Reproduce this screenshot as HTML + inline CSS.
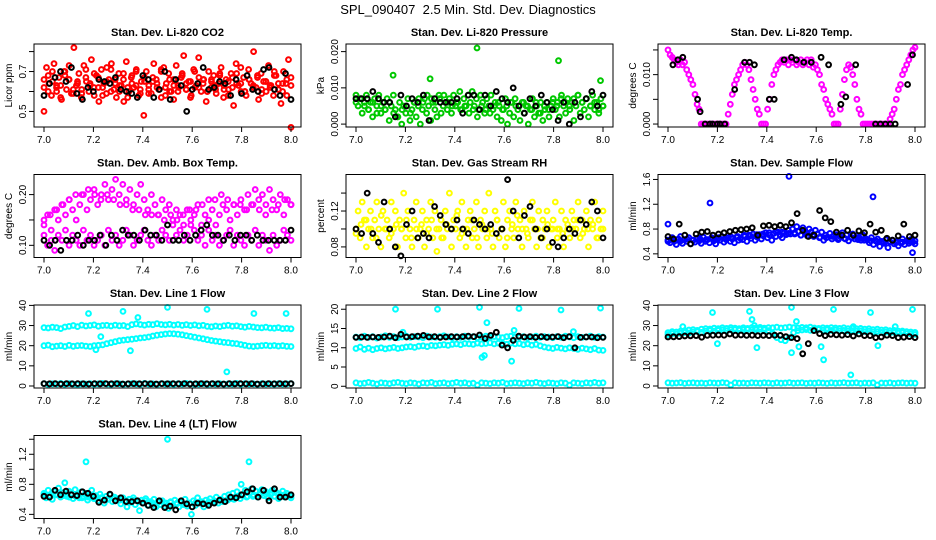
<!DOCTYPE html>
<html><head><meta charset="utf-8">
<style>
html,body{margin:0;padding:0;background:#fff;}
svg{display:block;font-family:"Liberation Sans",Arial,sans-serif;}
</style></head>
<body>
<svg id="chart" width="936" height="540" viewBox="0 0 936 540" xmlns="http://www.w3.org/2000/svg">
<rect x="0" y="0" width="936" height="540" fill="#fff"/>
<text x="468" y="14" text-anchor="middle" font-size="13">SPL_090407&#160; 2.5 Min. Std. Dev. Diagnostics</text>
</svg>
<script>
// ---------- data arrays ----------
const xTicks = [7.0, 7.2, 7.4, 7.6, 7.8, 8.0];
const xTickLabels = ["7.0", "7.2", "7.4", "7.6", "7.8", "8.0"];

const co2Red = [0.50,0.72,0.64,0.58,0.74,0.62,0.67,0.56,0.70,0.61,0.66,0.59,0.82,0.63,0.69,0.57,0.73,0.65,0.60,0.76,0.62,0.68,0.55,0.71,0.64,0.59,0.66,0.74,0.61,0.57,0.69,0.63,0.55,0.75,0.60,0.67,0.62,0.71,0.58,0.65,0.48,0.70,0.63,0.59,0.74,0.66,0.61,0.57,0.72,0.64,0.69,0.60,0.56,0.73,0.62,0.67,0.78,0.61,0.65,0.58,0.71,0.63,0.77,0.60,0.66,0.55,0.70,0.62,0.68,0.59,0.64,0.72,0.57,0.66,0.61,0.69,0.53,0.74,0.63,0.60,0.67,0.58,0.71,0.64,0.80,0.62,0.56,0.69,0.65,0.60,0.73,0.63,0.58,0.68,0.61,0.54,0.70,0.64,0.76,0.42];
const co2RedB = [0.66,0.60,0.70,0.63,0.57,0.68,0.73,0.61,0.65,0.59,0.71,0.64,0.58,0.67,0.62,0.72,0.60,0.66,0.63,0.69,0.57,0.64,0.70,0.61,0.67,0.59,0.65,0.62,0.71,0.58,0.66,0.63,0.60,0.68,0.64,0.57,0.70,0.62,0.66,0.60,0.65,0.61,0.69,0.63,0.58,0.67,0.64,0.72,0.60,0.66,0.62,0.68,0.59,0.65,0.63,0.70,0.61,0.64,0.58,0.67];
const co2RedC = [0.62,0.68,0.65,0.60,0.63,0.70,0.66,0.59,0.64,0.61,0.67,0.63,0.69,0.62,0.58,0.65,0.71,0.64,0.60,0.66,0.62,0.68,0.63,0.59,0.65,0.61,0.67,0.64,0.70,0.62,0.60,0.66,0.63,0.69,0.61,0.65,0.62,0.67,0.64,0.60,0.66,0.63,0.68,0.61,0.65,0.62,0.69,0.64,0.60,0.66,0.63,0.67,0.61,0.65,0.62,0.68,0.64,0.60,0.66,0.63];
const co2Black = [0.58,0.64,0.67,0.70,0.65,0.72,0.59,0.56,0.62,0.60,0.66,0.65,0.64,0.67,0.61,0.60,0.59,0.57,0.68,0.66,0.57,0.61,0.70,0.56,0.66,0.63,0.50,0.61,0.64,0.72,0.61,0.62,0.65,0.64,0.58,0.66,0.59,0.68,0.61,0.60,0.71,0.72,0.61,0.58,0.69,0.56];

const presGreen = [0.008,0.005,0.007,0.003,0.006,0.008,0.004,0.006,0.002,0.007,0.005,0.008,0.003,0.006,0.004,0.007,0.001,0.005,0.008,
 0.004,0.002,0.006,0.000,0.005,0.003,0.007,0.001,0.004,0.006,0.002,0.005,0.000,0.004,0.007,0.003,0.005,0.001,0.006,0.004,0.002,0.008,0.003,0.005,
 0.006,0.004,0.007,0.003,0.008,0.005,0.006,0.009,0.004,0.007,0.005,0.008,0.006,0.009,0.005,0.007,0.004,0.008,0.006,0.003,0.007,0.005,0.008,0.004,
 0.006,0.002,0.005,0.001,0.004,0.007,0.000,0.003,0.006,0.002,0.005,0.004,0.001,0.006,0.003,0.005,0.000,0.004,0.007,0.002,0.005,0.003,0.006,0.001,0.004,0.006,0.002,0.005,
 0.007,0.004,0.006,0.002,0.008,0.005,0.003,0.007,0.004,0.006,0.001,0.005,0.008,0.003,0.006,0.004,0.007,0.002,0.005,0.008,0.004,0.006,0.003,0.007,0.005];
const presGreenB = [0.006,0.007,0.005,0.004,0.006,0.003,0.005,0.004,0.006,0.003,0.002,0.004,0.005,0.003,0.006,0.007,0.006,0.008,0.007,0.006,0.007,0.008,0.006,0.005,0.006,0.004,0.005,0.003,0.004,0.002,0.005,0.004,0.003,0.005,0.006,0.004,0.005,0.006,0.007,0.005,0.006,0.005,0.004,0.006,0.003,0.005,0.004,0.006,0.005,0.007,0.006,0.005,0.007,0.008,0.006,0.007,0.005,0.006,0.004,0.005];
const presOutX = [7.15, 7.30, 7.49, 7.82, 7.99];
const presOutY = [0.0135, 0.0125, 0.021, 0.0175, 0.012];
const presBlack = [0.007,0.007,0.007,0.009,0.007,0.006,0.006,0.002,0.008,0.005,0.007,0.006,0.008,0.001,0.007,0.006,0.006,0.006,0.007,0.003,0.008,0.008,0.004,0.008,0.005,0.009,0.007,0.006,0.010,0.005,0.003,0.007,0.005,0.008,0.006,0.004,0.001,0.006,0.000,0.006,0.002,0.007,0.009,0.005,0.008];

const tempMag = [0.015,0.014,0.0135,0.013,0.0125,0.012,0.013,0.012,
 0.0125,0.011,0.010,0.009,0.008, 0.006,0.004,0.003,
 0,0,0,0,0,0,0,0,0,0,0,0,0,
 0.002,0.004,0.006,0.008,0.009,0.010,
 0.011,0.012,0.0125,0.012,0.011,0.009,
 0.007,0.005,0.003,0.002, 0,0,0,
 0.003,0.005,0.008,0.010,0.011,0.012,
 0.0125,0.013,0.0125,0.013,0.012,0.013,0.0125,0.013,0.012,0.0125,0.013,0.012,0.0125,0.013,0.012,0.013,0.0115,0.012,0.011,
 0.010,0.008,0.007,0.005,0.004,0.003,
 0.002,0,0,0,
 0.003,0.006,0.009,0.011,0.012,0.0115,
 0.010,0.008,0.005,0.003,
 0.002,0,0,0,0,0,0,0,0,0,0,0,0,0,
 0.001,0.002,0.003,0.005,0.007,0.008,0.010,0.011,0.012,0.013,0.014,0.015,0.0155];
const tempBlackX = [7.02,7.04,7.06,7.12,7.13,7.15,7.17,7.18,7.20,7.21,7.23,7.27,7.31,7.33,7.35,7.41,7.43,7.47,7.50,7.52,7.55,7.58,7.62,7.65,7.70,7.72,7.76,7.84,7.86,7.88,7.90,7.92,7.97,7.99];
const tempBlackY = [0.012,0.013,0.0135,0.005,0.0025,0,0,0,0,0,0,0.007,0.0125,0.0125,0.012,0.005,0.005,0.013,0.0135,0.013,0.0125,0.0125,0.0135,0.012,0.004,0.0055,0.012,0,0,0,0,0,0.008,0.014];

const ambUpper = [0.14,0.16,0.13,0.17,0.15,0.18,0.16,0.19,0.17,0.15,0.18,0.20,0.17,0.19,0.21,0.18,0.20,0.22,0.19,0.21,0.23,0.20,0.22,0.19,0.21,0.18,0.20,0.22,0.19,0.17,0.20,0.18,0.16,0.19,0.17,0.18,0.15,0.17,0.16,0.14,0.17,0.15,0.16,0.18,0.14,0.16,0.15,0.17,0.14,0.16,0.18,0.17,0.15,0.18,0.16,0.19,0.17,0.20,0.18,0.21,0.19,0.20,0.18,0.21,0.19,0.17,0.20,0.16,0.19,0.18];
const ambUpperB = [0.15,0.16,0.17,0.18,0.19,0.20,0.20,0.21,0.20,0.19,0.20,0.19,0.18,0.18,0.17,0.17,0.16,0.16,0.16,0.15,0.16,0.15,0.16,0.17,0.17,0.18,0.19,0.19,0.20,0.19,0.18,0.18,0.17,0.18,0.17,0.16,0.17,0.18,0.19,0.18];
const ambLower = [0.12,0.10,0.11,0.09,0.12,0.11,0.13,0.10,0.12,0.11,0.10,0.13,0.11,0.12,0.10,0.11,0.12,0.10,0.13,0.11,0.12,0.10,0.11,0.13,0.12,0.10,0.11,0.12,0.13,0.11,0.10,0.12,0.11,0.13,0.12,0.11,0.14,0.12,0.13,0.11,0.12,0.14,0.13,0.11,0.12,0.10,0.13,0.11,0.12,0.10,0.11,0.12,0.13,0.10,0.12,0.11,0.10,0.12,0.11,0.13,0.10,0.12,0.11,0.09,0.12,0.10,0.11,0.13,0.12,0.11];
const ambBlack = [0.11,0.10,0.11,0.09,0.11,0.11,0.12,0.10,0.11,0.11,0.12,0.10,0.12,0.11,0.13,0.12,0.12,0.11,0.13,0.12,0.12,0.11,0.14,0.11,0.11,0.12,0.11,0.12,0.13,0.14,0.12,0.12,0.11,0.12,0.11,0.12,0.12,0.11,0.12,0.11,0.11,0.11,0.11,0.11,0.13];

const rhYellow = [0.10,0.12,0.09,0.13,0.11,0.08,0.10,0.12,0.09,0.11,0.13,0.10,0.08,0.12,0.10,0.11,0.09,0.13,0.10,0.12,0.08,0.11,0.10,0.14,0.09,0.12,0.10,0.08,0.11,0.13,0.09,0.10,0.12,0.08,0.11,0.10,0.13,0.09,0.12,0.075,0.10,0.11,0.09,0.12,0.10,0.14,0.08,0.11,0.10,0.12,0.09,0.13,0.10,0.08,0.11,0.12,0.09,0.10,0.13,0.08,0.11,0.10,0.12,0.09,0.14,0.10,0.08,0.12,0.11,0.09,0.10,0.13,0.08,0.11,0.12,0.10,0.09,0.13,0.10,0.11,0.08,0.12,0.10,0.09,0.11,0.13,0.10,0.08,0.12,0.09,0.11,0.10,0.12,0.08,0.10,0.11,0.13,0.09,0.10,0.12,0.08,0.11,0.10,0.09,0.12,0.11,0.10,0.13,0.09,0.11,0.10,0.12,0.08,0.11,0.10,0.13,0.09,0.11,0.10,0.12];
const rhYellowB = [0.095,0.105,0.11,0.10,0.09,0.115,0.10,0.095,0.105,0.10,0.11,0.09,0.10,0.105,0.095,0.11,0.10,0.09,0.105,0.10,0.115,0.095,0.10,0.11,0.09,0.105,0.10,0.095,0.11,0.10,0.09,0.105,0.115,0.10,0.095,0.11,0.10,0.09,0.105,0.10,0.10,0.095,0.105,0.10,0.11,0.095,0.10,0.105,0.09,0.10];
const rhBlack = [0.10,0.095,0.14,0.095,0.085,0.13,0.10,0.08,0.07,0.105,0.12,0.09,0.095,0.09,0.125,0.115,0.105,0.10,0.11,0.10,0.095,0.11,0.105,0.10,0.105,0.095,0.10,0.155,0.12,0.09,0.115,0.125,0.10,0.09,0.10,0.085,0.08,0.09,0.10,0.095,0.11,0.105,0.13,0.12,0.09];

const flowBlue = [0.62,0.58,0.66,0.60,0.55,0.64,0.68,0.57,0.63,0.60,0.66,0.56,0.62,0.59,0.65,0.61,0.57,0.67,0.60,0.63,0.58,0.66,0.61,0.56,0.64,0.62,0.68,0.59,0.63,0.66,0.60,0.64,0.58,0.67,0.62,0.65,
 0.63,0.68,0.60,0.70,0.65,0.72,0.62,0.67,0.71,0.64,0.69,0.74,0.66,0.70,0.62,0.73,0.68,0.75,0.70,0.66,0.74,0.71,0.78,0.72,
 0.80,0.74,0.84,0.76,0.70,0.82,0.77,0.73,0.80,0.75,0.71,0.78,
 0.72,0.66,0.75,0.62,0.70,0.67,0.73,0.64,0.69,0.71,0.63,0.68,0.74,0.65,0.70,0.61,0.67,0.72,0.64,0.69,0.66,0.62,0.70,0.65,
 0.63,0.58,0.66,0.55,0.61,0.64,0.52,0.60,0.57,0.63,0.50,0.59,0.62,0.56,0.60,0.53,0.58,0.64,0.55,0.61,0.57,0.63,0.59,0.56];
const flowBlueB = [0.60,0.63,0.61,0.64,0.62,0.65,0.63,0.64,0.66,0.65,0.67,0.68,0.70,0.69,0.71,0.72,0.74,0.76,0.75,0.73,0.72,0.70,0.69,0.68,0.67,0.66,0.68,0.65,0.64,0.66,0.63,0.62,0.61,0.60,0.59,0.60,0.58,0.59,0.60,0.61];
const flowOutX = [7.0, 7.17, 7.49, 7.83, 7.99];
const flowOutY = [0.88, 1.22, 1.65, 1.32, 0.42];
const flowBlack = [0.68,0.64,0.88,0.70,0.56,0.72,0.75,0.76,0.70,0.72,0.74,0.76,0.78,0.79,0.80,0.82,0.70,0.85,0.86,0.84,0.86,0.84,0.90,1.05,0.78,0.68,0.70,1.10,0.98,0.92,0.75,0.70,0.78,0.70,0.77,0.74,0.88,0.75,0.78,0.65,0.62,0.69,0.88,0.68,0.70];

const l1Top = [29,28.8,29.2,29,28.5,29.3,29.6,30,29.5,30.2,29.8,30,30.3,29.7,30,30.1,29.8,30.2,29.9,30,29.5,30.4,30.8,30.5,30.2,30.6,30.4,30.9,30.5,30.3,30.6,30.2,30.5,30.1,30.4,30,30.3,29.9,30.1,29.6,29.4,29.8,29.5,29.9,30.1,29.7,29.9,29.5,29.2,29.6,29.3,29,28.9,29.2,28.8,28.7,29,28.5,28.6,28.4];
const l1Mid = [20,20.3,19.5,19.8,20,19.6,20.2,19.7,20,20.1,19.8,19.6,20,20.2,20.4,21,21.5,22,22.5,22.8,23,23.2,23.5,23.8,24,24.3,24.8,25.2,25.5,25.8,26,25.9,25.7,25.4,25,24.6,24.2,23.8,23.4,23,22.6,22.3,22,21.7,21.5,21.2,21,20.6,20.2,19.8,19.6,19.8,20,20.2,19.9,20.1,19.8,20,19.7,19.6];
const l1Bottom = [1.2,0.8,1.1,1.0,1.3,0.9,1.2,1.0,0.7,1.1,1.0,1.2,0.9,1.1,1.3,1.0,0.8,1.2,1.1,0.9,1.0,1.2,1.1,0.9,1.3,1.0,1.1,0.8,1.2,1.0,1.1,0.9,1.2,1.0,1.3,1.1,0.9,1.0,1.2,0.8,1.1,1.0,1.2,0.9,1.1,1.0,1.3,0.9,1.2,1.0,1.1,0.8,1.2,1.0,1.1,0.9,1.2,1.0,1.1,1.2];
const l1OutX = [7.18, 7.32, 7.35, 7.38, 7.50, 7.66, 7.74, 7.85, 7.98, 7.21, 7.23];
const l1OutY = [36, 37, 17.5, 34, 39, 38, 7, 36, 36, 18, 24.5];
const l1Black = [1.2,1.1,1.2,1.0,1.2,1.1,1.2,1.1,1.0,1.2,1.1,1.2,1.1,1.2,1.0,1.1,1.2,1.1,1.2,1.1,1.0,1.2,1.1,1.2,1.1,1.2,1.0,1.1,1.2,1.1,1.2,1.1,1.0,1.2,1.1,1.2,1.1,1.2,1.0,1.1,1.2,1.1,1.2,1.1,1.2];

const l2Top = [12.8,12.6,13.0,12.7,12.9,12.5,12.8,13.1,12.7,12.9,12.6,12.8,13.0,12.7,12.9,12.8,12.6,13.0,12.8,12.7,12.9,13.1,12.8,12.6,12.9,12.7,13.0,12.8,12.9,12.6,12.8,13.0,12.7,12.9,12.8,12.6,12.9,13.0,12.8,12.7,12.9,12.6,12.8,13.0,12.7,12.9,12.8,12.6,12.9,12.7,13.0,12.8,12.6,12.9,12.7,12.8,13.0,12.7,12.9,12.8];
const l2Mid = [9.8,10.2,9.6,9.9,9.5,9.8,10.0,9.7,9.9,10.1,9.8,10.0,10.2,10.3,10.1,10.4,10.5,10.3,10.6,10.5,10.7,10.8,10.6,10.9,11.0,10.8,11.1,11.0,10.9,11.2,11.0,11.1,11.3,11.0,11.2,11.1,10.9,11.2,11.0,11.1,10.8,11.0,10.7,10.9,10.5,10.2,10.0,9.8,10.1,9.9,9.7,10.0,9.8,9.6,9.9,9.7,9.5,9.8,9.4,9.3];
const l2Bottom = [0.9,0.7,0.8,1.0,0.8,0.6,0.9,0.8,0.7,0.9,1.0,0.8,0.7,0.9,0.8,0.6,0.9,0.8,1.0,0.7,0.8,0.9,0.7,0.8,1.0,0.8,0.9,0.7,0.8,0.3,0.9,0.8,0.7,0.9,0.8,1.0,0.7,0.8,0.9,0.8,0.7,0.9,0.8,1.0,0.8,0.7,0.9,0.8,0.7,0.9,0.8,0.3,0.9,0.8,0.7,0.9,0.8,1.0,0.8,0.9];
const l2OutX = [7.16, 7.19, 7.33, 7.50, 7.51, 7.52, 7.53, 7.63, 7.64, 7.66, 7.83, 7.88, 7.99];
const l2OutY = [20, 14, 20, 20.5, 7.5, 8, 16.5, 6.5, 14.5, 20.2, 19.8, 14.2, 20.3];
const l2Black = [12.7,12.8,12.7,12.8,12.7,12.8,13.0,12.6,13.5,12.8,12.9,13.0,13.2,12.8,12.9,12.7,12.8,12.9,12.8,12.9,13.0,12.9,13.3,12.4,13.2,14.0,10.7,10.0,11.9,13.0,12.8,12.9,12.7,12.9,12.7,12.8,12.9,12.6,12.9,10.0,12.7,12.8,12.8,12.6,12.7];

const l3Top = [26.5,27,26.8,27.2,27.5,27.8,28,27.6,28.2,28.5,28.3,28.7,28.5,28.9,28.6,29,28.7,28.5,28.9,28.6,29,28.8,29.1,28.7,29,28.9,29.2,28.8,29,29.3,29,28.8,29.1,28.9,29.2,28.8,28.6,28.9,28.7,29,28.8,28.6,28.9,28.5,28.7,28.4,28.6,28.2,28.4,28,28.2,27.8,27.9,27.5,27.6,27.2,27.3,27,26.8,26.6];
const l3Mid = [25.5,26,25.8,26.2,26.5,26.3,26.8,27,26.6,27.2,27.5,27.3,27.6,27.8,27.5,27.9,28,27.7,27.9,28.1,27.8,28,28.2,27.9,27.5,26,24,23,22.5,24,26.5,27.5,27.8,28,27.6,27.9,28.1,27.7,27.9,27.6,27.8,27.4,27.6,27.3,27.5,27.2,27.4,27,27.2,26.8,27,26.6,26.8,26.4,26.6,26.2,26.4,26,25.8,25.6];
const l3Bottom = [1.6,1.4,1.5,1.7,1.3,1.5,1.6,1.4,1.5,1.3,1.6,1.5,1.4,1.7,1.5,0.5,1.6,1.4,1.5,1.3,1.6,1.5,1.4,1.6,1.5,1.3,1.6,1.4,1.5,1.7,1.4,1.5,1.6,1.3,1.5,1.4,1.6,1.5,1.3,1.6,1.4,1.5,1.7,1.4,1.5,1.6,1.3,1.5,1.4,1.6,0.5,1.5,1.4,1.6,1.3,1.5,1.6,1.4,1.5,1.4];
const l3OutX = [7.06, 7.18, 7.20, 7.33, 7.34, 7.35, 7.36, 7.50, 7.50, 7.52, 7.53, 7.62, 7.63, 7.67, 7.74, 7.75, 7.82, 7.85, 7.92, 7.99];
const l3OutY = [29.5, 36.5, 21, 37, 33, 30, 19, 39, 16.5, 32, 19.5, 19.5, 13, 38, 5.5, 29.5, 36.5, 20, 29.5, 38];
const l3Black = [24.3,24.4,24.5,24.8,24.9,25.0,24.2,25.1,25.2,25.3,25.2,25.8,25.2,25.3,25.1,25.2,25.0,25.1,25.0,25.2,25.1,24.5,24.0,23.5,16.0,21.0,27.5,26.0,25.0,25.6,25.4,25.2,25.5,24.8,25.8,25.0,25.0,24.0,24.3,25.2,25.0,24.0,24.2,24.5,24.0];

const l4Cyan = [0.68,0.62,0.72,0.65,0.60,0.70,0.66,0.75,0.63,0.69,0.82,0.64,0.71,0.67,0.61,0.73,0.66,0.62,0.70,0.64,0.68,0.59,0.66,0.72,0.61,0.65,0.58,0.67,0.62,0.55,0.64,0.60,0.66,0.57,0.63,0.59,0.61,0.54,0.62,0.58,0.50,0.60,0.56,0.62,0.53,0.58,0.45,0.59,0.55,0.61,0.52,0.57,0.54,0.60,0.50,0.56,0.53,0.58,0.51,0.55,0.48,0.57,0.52,0.59,0.54,0.50,0.56,0.53,0.60,0.51,0.55,0.40,0.58,0.52,0.62,0.55,0.57,0.50,0.59,0.54,0.61,0.56,0.58,0.63,0.55,0.60,0.57,0.64,0.59,0.66,0.61,0.68,0.63,0.70,0.65,0.80,0.67,0.72,0.64,0.69,0.74,0.66,0.71,0.63,0.68,0.73,0.65,0.70,0.62,0.67,0.72,0.64,0.69,0.61,0.66,0.71,0.63,0.68,0.65,0.62];
const l4CyanB = [0.66,0.64,0.67,0.65,0.63,0.64,0.62,0.63,0.61,0.62,0.60,0.61,0.59,0.58,0.59,0.57,0.58,0.56,0.57,0.55,0.56,0.55,0.54,0.55,0.56,0.55,0.57,0.56,0.58,0.59,0.60,0.61,0.63,0.64,0.66,0.67,0.68,0.67,0.66,0.65];
const l4OutX = [7.17, 7.50, 7.83];
const l4OutY = [1.1, 1.4, 1.1];
const l4Black = [0.64,0.63,0.72,0.66,0.71,0.66,0.65,0.70,0.68,0.64,0.56,0.59,0.67,0.58,0.62,0.57,0.57,0.58,0.55,0.52,0.49,0.58,0.49,0.51,0.46,0.58,0.54,0.50,0.55,0.54,0.52,0.55,0.59,0.57,0.63,0.62,0.66,0.70,0.74,0.63,0.72,0.58,0.74,0.63,0.63,0.66];

// ---------- layout ----------
const SVGNS = "http://www.w3.org/2000/svg";
const svg = document.getElementById("chart");
const colLeft = [34, 346, 658];
const rowTop = [44, 174.5, 305, 435.5];
const boxW = 267, boxH = 83;

function grid(n) { const t = []; for (let i = 0; i < n; i++) t.push(7 + i / (n - 1)); return t; }
function mk(tag, attrs, parent) {
  const e = document.createElementNS(SVGNS, tag);
  for (const k in attrs) e.setAttribute(k, attrs[k]);
  (parent || svg).appendChild(e);
  return e;
}

const panels = [
  {name:"co2", title:"Stan. Dev. Li-820 CO2", ylab:"Licor ppm", col:0,row:0, ymin:0.422, ymax:0.838,
   yt:[0.5,0.6,0.7,0.8], yl:{0.5:"0.5",0.7:"0.7"},
   series:[[null,co2Red,"#ff0000"],[null,co2RedB,"#ff0000"],[null,co2RedC,"#ff0000"],[null,co2Black,"#000"]]},
  {name:"pressure", title:"Stan. Dev. Li-820 Pressure", ylab:"kPa", col:1,row:0, ymin:-0.0008, ymax:0.0221,
   yt:[0,0.01,0.02], yl:{0:"0.000",0.01:"0.010",0.02:"0.020"},
   series:[[null,presGreen,"#00c800"],[null,presGreenB,"#00c800"],[presOutX,presOutY,"#00c800"],[null,presBlack,"#000"]]},
  {name:"li820-temp", title:"Stan. Dev. Li-820 Temp.", ylab:"degrees C", col:2,row:0, ymin:-0.0006, ymax:0.0162,
   yt:[0,0.005,0.01,0.015], yl:{0:"0.000",0.01:"0.010"},
   series:[[null,tempMag,"#ff00ff"],[tempBlackX,tempBlackY,"#000"]]},
  {name:"amb-box-temp", title:"Stan. Dev. Amb. Box Temp.", ylab:"degrees C", col:0,row:1, ymin:0.076, ymax:0.2396,
   yt:[0.1,0.15,0.2], yl:{0.1:"0.10",0.2:"0.20"},
   series:[[null,ambUpper,"#ff00ff"],[null,ambUpperB,"#ff00ff"],[null,ambLower,"#ff00ff"],[null,ambBlack,"#000"]]},
  {name:"gas-stream-rh", title:"Stan. Dev. Gas Stream RH", ylab:"percent", col:1,row:1, ymin:0.0682, ymax:0.1607,
   yt:[0.08,0.10,0.12,0.14], yl:{0.08:"0.08",0.12:"0.12"},
   series:[[null,rhYellow,"#ffff00"],[null,rhYellowB,"#ffff00"],[null,rhBlack,"#000"]]},
  {name:"sample-flow", title:"Stan. Dev. Sample Flow", ylab:"ml/min", col:2,row:1, ymin:0.341, ymax:1.68,
   yt:[0.4,0.8,1.2,1.6], yl:{0.4:"0.4",0.8:"0.8",1.2:"1.2",1.6:"1.6"},
   series:[[null,flowBlue,"#0000ff"],[null,flowBlueB,"#0000ff"],[flowOutX,flowOutY,"#0000ff"],[null,flowBlack,"#000"]]},
  {name:"line1-flow", title:"Stan. Dev. Line 1 Flow", ylab:"ml/min", col:0,row:2, ymin:-1, ymax:40.2,
   yt:[0,10,20,30,40], yl:{0:"0",10:"10",20:"20",30:"30",40:"40"},
   series:[[null,l1Top,"#00ffff"],[null,l1Mid,"#00ffff"],[null,l1Bottom,"#00ffff"],[l1OutX,l1OutY,"#00ffff"],[null,l1Black,"#000"]]},
  {name:"line2-flow", title:"Stan. Dev. Line 2 Flow", ylab:"ml/min", col:1,row:2, ymin:-0.45, ymax:21.1,
   yt:[0,5,10,15,20], yl:{0:"0",5:"5",10:"10",15:"15",20:"20"},
   series:[[null,l2Top,"#00ffff"],[null,l2Mid,"#00ffff"],[null,l2Bottom,"#00ffff"],[l2OutX,l2OutY,"#00ffff"],[null,l2Black,"#000"]]},
  {name:"line3-flow", title:"Stan. Dev. Line 3 Flow", ylab:"ml/min", col:2,row:2, ymin:-1, ymax:40.2,
   yt:[0,10,20,30,40], yl:{0:"0",10:"10",20:"20",30:"30",40:"40"},
   series:[[null,l3Top,"#00ffff"],[null,l3Mid,"#00ffff"],[null,l3Bottom,"#00ffff"],[l3OutX,l3OutY,"#00ffff"],[null,l3Black,"#000"]]},
  {name:"line4-flow", title:"Stan. Dev. Line 4 (LT) Flow", ylab:"ml/min", col:0,row:3, ymin:0.345, ymax:1.45,
   yt:[0.4,0.6,0.8,1.0,1.2,1.4], yl:{0.4:"0.4",0.8:"0.8",1.2:"1.2"},
   series:[[null,l4Cyan,"#00ffff"],[null,l4CyanB,"#00ffff"],[l4OutX,l4OutY,"#00ffff"],[null,l4Black,"#000"]]}
];

panels.forEach(p => {
  const L = colLeft[p.col], T = rowTop[p.row], B = T + boxH, R = L + boxW;
  const xs = v => L + 10 + (v - 7) * (boxW - 20);
  const ys = v => B - (v - p.ymin) / (p.ymax - p.ymin) * boxH;
  const g = mk("g", {});
  
  

  const t = mk("text", {x:(L+R)/2, y:T-8, "text-anchor":"middle", "font-size":"11", "font-weight":"bold"}, g);
  t.textContent = p.title;
  
  

  const pts = mk("g", {fill:"none", "stroke-width":"2"}, g);
  
  
  p.series.forEach(s => {
    const vals = s[1];
    const xv = s[0] || grid(vals.length);
    vals.forEach((v, i) => {
      const c = mk("circle", {cx:xs(xv[i]).toFixed(1), cy:ys(v).toFixed(1), r:"2.4", stroke:s[2]}, pts);
      
      
    });
  });

  const box = mk("rect", {x:L, y:T, width:boxW, height:boxH, fill:"none", stroke:"#000", "stroke-width":"1"}, g);
  
  

  const xa = mk("g", {}, g);
  
  
  xTicks.forEach((v, i) => {
    mk("line", {x1:xs(v), x2:xs(v), y1:B, y2:B+5, stroke:"#000"}, xa);
    const tl = mk("text", {x:xs(v), y:B+16, "text-anchor":"middle", "font-size":"10"}, xa);
    tl.textContent = xTickLabels[i];
    
    
  });

  const ya = mk("g", {}, g);
  
  
  p.yt.forEach(v => {
    mk("line", {x1:L-5, x2:L, y1:ys(v), y2:ys(v), stroke:"#000"}, ya);
    if (p.yl[v] !== undefined) {
      const yy = ys(v), xx = L - 8;
      const tl = mk("text", {x:xx, y:yy, "text-anchor":"middle", "font-size":"10", transform:`rotate(-90 ${xx} ${yy})`}, ya);
      tl.textContent = p.yl[v];
      
      
    }
  });
  const lx = L - 22, ly = (T + B) / 2;
  const yl = mk("text", {x:lx, y:ly, "text-anchor":"middle", "font-size":"10", transform:`rotate(-90 ${lx} ${ly})`}, g);
  yl.textContent = p.ylab;
  
  
});
</script>
</body></html>
